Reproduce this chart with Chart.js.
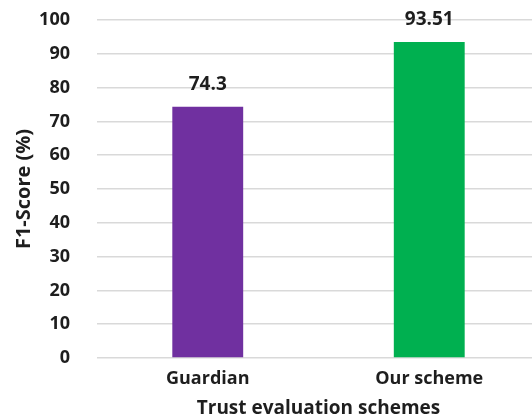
<!DOCTYPE html>
<html>
<head>
<meta charset="utf-8">
<title>F1-Score</title>
<script src="https://cdn.jsdelivr.net/npm/chart.js@4.4.1/dist/chart.umd.min.js"></script>
<style>
  html, body { margin: 0; padding: 0; background: #fff; overflow: hidden; }
  #wrap { width: 540px; height: 416px; }
</style>
</head>
<body>
<div id="wrap"><canvas id="chart" width="540" height="416"></canvas></div>
<script>
  // Data
  const categories = ['Guardian', 'Our scheme'];
  const f1Scores = [74.3, 93.51];
  const barColors = ['#7030A0', '#00B050'];
  const yTicks = [0, 10, 20, 30, 40, 50, 60, 70, 80, 90, 100];

  const FONT = "'Open Sans', 'DejaVu Sans', sans-serif";
  const TEXT = '#1e1e1e';

  // Value labels above the bars
  const valueLabels = {
    id: 'valueLabels',
    afterDatasetsDraw(chart) {
      const ctx = chart.ctx;
      const meta = chart.getDatasetMeta(0);
      ctx.save();
      ctx.font = "bold 19px " + FONT;
      ctx.fillStyle = TEXT;
      ctx.textAlign = 'center';
      ctx.textBaseline = 'middle';
      meta.data.forEach((bar, i) => {
        ctx.fillText(String(f1Scores[i]), bar.x, bar.y - 22);
      });
      ctx.restore();
    }
  };

  new Chart(document.getElementById('chart'), {
    type: 'bar',
    data: {
      labels: categories,
      datasets: [{
        data: f1Scores,
        backgroundColor: barColors,
        borderWidth: 0,
        barPercentage: 0.32,
        categoryPercentage: 1
      }]
    },
    options: {
      responsive: false,
      animation: false,
      layout: { padding: { top: 20, left: 0, right: 0, bottom: 0 } },
      plugins: { legend: { display: false }, tooltip: { enabled: false } },
      scales: {
        x: {
          grid: { display: false, drawTicks: false },
          border: { display: false },
          ticks: { color: TEXT, padding: 10, font: { family: FONT, size: 18, weight: 'bold' } },
          title: {
            display: true,
            text: 'Trust evaluation schemes',
            color: TEXT,
            font: { family: FONT, size: 19, weight: 'bold' },
            padding: { top: 0, bottom: -4 }
          },
          afterFit(scale) {
            scale.height = 58;
            scale.paddingLeft = 0;
            scale.paddingRight = 0;
          }
        },
        y: {
          min: 0,
          max: 100,
          afterBuildTicks(scale) { scale.ticks = yTicks.map(v => ({ value: v })); },
          grid: { color: '#d9d9d9', lineWidth: 1.5, drawTicks: false },
          border: { display: false },
          ticks: { color: TEXT, padding: 27, font: { family: FONT, size: 18, weight: 'bold' } },
          title: {
            display: true,
            text: 'F1-Score (%)',
            color: TEXT,
            font: { family: FONT, size: 20, weight: 'bold' },
            padding: { top: 12, bottom: 0 }
          },
          afterFit(scale) {
            scale.width = 97;
            scale.paddingTop = 0;
            scale.paddingBottom = 0;
          }
        }
      }
    },
    plugins: [valueLabels]
  });
</script>
</body>
</html>
